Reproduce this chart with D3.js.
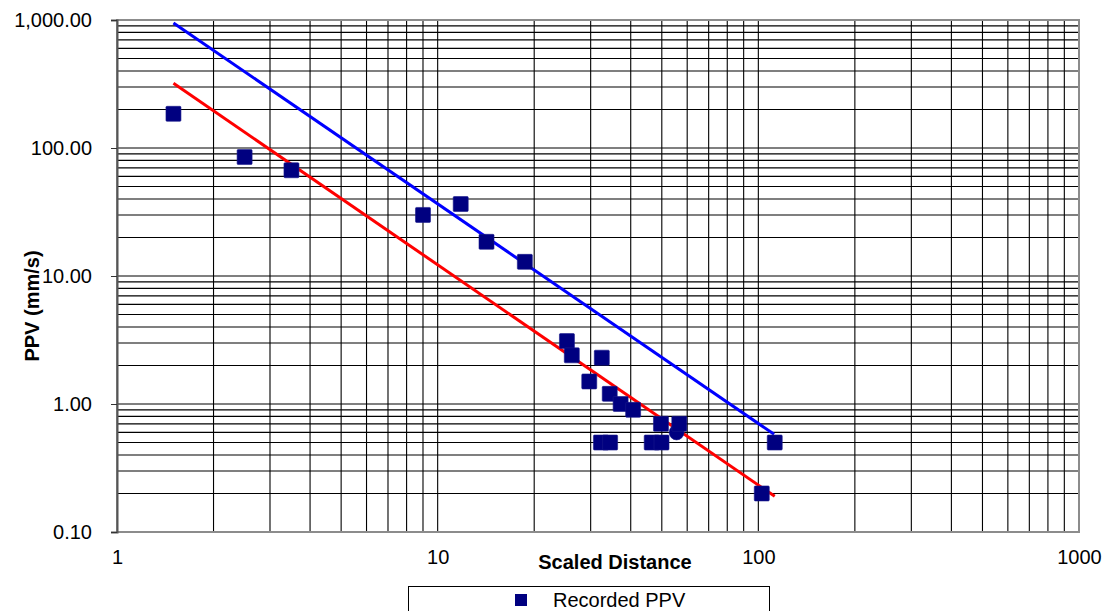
<!DOCTYPE html>
<html>
<head>
<meta charset="utf-8">
<script src="https://cdn.jsdelivr.net/npm/d3@7"></script>
<style>
  html, body { margin: 0; padding: 0; background: #fff; }
  svg { display: block; font-family: "Liberation Sans", Arial, sans-serif; }
</style>
</head>
<body>
<svg id="chart" width="1110" height="611"></svg>
<script>
// ---- data ----
const scaledDistance = [1.5, 2.5, 3.5, 9.0, 11.8, 14.2, 18.7, 25.3, 26.2, 32.5, 29.7, 34.4, 37.2, 40.7, 49.7, 56.7, 32.3, 34.5, 46.5, 49.9, 112.5, 102.5];
const recordedPPV    = [185, 85, 67, 30, 36.5, 18.5, 12.9, 3.1, 2.4, 2.3, 1.5, 1.2, 1.0, 0.9, 0.7, 0.7, 0.5, 0.5, 0.5, 0.5, 0.5, 0.2];
const extraSD  = [55.6];
const extraPPV = [0.6];
const upperLineSD  = [1.5, 112];
const upperLinePPV = [948, 0.58];
const lowerLineSD  = [1.5, 112.5];
const lowerLinePPV = [320, 0.19];
const xTickValues = [1, 10, 100, 1000];
const xTickLabels = ["1", "10", "100", "1000"];
const yTickValues = [0.1, 1, 10, 100, 1000];
const yTickLabels = ["0.10", "1.00", "10.00", "100.00", "1,000.00"];
const legendLabel = "Recorded PPV";

// ---- layout ----
const svg = d3.select("#chart");
const L = 117, T = 20, R = 1079, B = 532;
const x = d3.scaleLog().domain([1, 1000]).range([L, R]);
const y = d3.scaleLog().domain([0.1, 1000]).range([B, T]);

// minor + major grid values
const xGrid = [], yGrid = [];
for (let d = 1; d < 1000; d *= 10) for (let k = 1; k < 10; k++) xGrid.push(d * k);
for (let d = 0.1; d < 999; d *= 10) for (let k = 1; k < 10; k++) yGrid.push(+(d * k).toPrecision(3));

const grid = svg.append("g");
grid.selectAll(".hg").data(yGrid.filter(v => v > 0.1)).enter().append("line")
  .attr("x1", L).attr("x2", R).attr("y1", d => y(d)).attr("y2", d => y(d))
  .attr("stroke", "#000").attr("stroke-width", 1.1);
grid.selectAll(".vg").data(xGrid.filter(v => v > 1)).enter().append("line")
  .attr("y1", T).attr("y2", B).attr("x1", d => x(d)).attr("x2", d => x(d))
  .attr("stroke", "#000").attr("stroke-width", 1.1);

// plot border
svg.append("rect").attr("x", L).attr("y", T).attr("width", R - L).attr("height", B - T)
  .attr("fill", "none").attr("stroke", "#8c8c8c").attr("stroke-width", 2);

// y axis
const yAxis = d3.axisLeft(y).tickValues(yTickValues)
  .tickFormat((d, i) => yTickLabels[i]).tickSize(6).tickPadding(19);
const gy = svg.append("g").attr("transform", `translate(${L},0)`).call(yAxis);
gy.select(".domain").attr("stroke", "#555").attr("stroke-width", 2);
gy.selectAll(".tick line").attr("stroke", "#333");
gy.selectAll("text").attr("font-size", "20px").attr("fill", "#000");

// x axis (labels only)
const xAxis = d3.axisBottom(x).tickValues(xTickValues)
  .tickFormat((d, i) => xTickLabels[i]).tickSize(0).tickPadding(18);
const gx = svg.append("g").attr("transform", `translate(0,${B})`).call(xAxis);
gx.select(".domain").remove();
gx.selectAll("text").attr("font-size", "20px").attr("fill", "#000");

// axis titles
svg.append("text").attr("x", 615).attr("y", 569).attr("text-anchor", "middle")
  .attr("font-size", "20px").attr("font-weight", "bold").text("Scaled Distance");
svg.append("text").attr("transform", "translate(39,306) rotate(-90)").attr("text-anchor", "middle")
  .attr("font-size", "20px").attr("font-weight", "bold").text("PPV (mm/s)");

// fitted lines
const line = d3.line().x(d => x(d[0])).y(d => y(d[1]));
svg.append("path").datum(upperLineSD.map((v, i) => [v, upperLinePPV[i]]))
  .attr("d", line).attr("stroke", "#0000ff").attr("stroke-width", 3).attr("fill", "none");
svg.append("path").datum(lowerLineSD.map((v, i) => [v, lowerLinePPV[i]]))
  .attr("d", line).attr("stroke", "#ff0000").attr("stroke-width", 3).attr("fill", "none");

// points
const S = 15;
svg.append("g").selectAll("circle").data(extraSD.map((v, i) => [v, extraPPV[i]])).enter()
  .append("circle").attr("cx", d => x(d[0])).attr("cy", d => y(d[1])).attr("r", 7.5)
  .attr("fill", "#000080").attr("stroke", "#1a1a8c").attr("stroke-width", 0.6);
svg.append("g").selectAll("rect").data(scaledDistance.map((v, i) => [v, recordedPPV[i]])).enter()
  .append("rect").attr("x", d => x(d[0]) - S / 2).attr("y", d => y(d[1]) - S / 2)
  .attr("width", S).attr("height", S).attr("rx", 1)
  .attr("fill", "#000080").attr("stroke", "#1a1a8c").attr("stroke-width", 0.6);

// legend
const lg = svg.append("g");
lg.append("rect").attr("x", 408.5).attr("y", 586.5).attr("width", 361).attr("height", 30)
  .attr("fill", "#fff").attr("stroke", "#000").attr("stroke-width", 1);
lg.append("rect").attr("x", 515).attr("y", 594).attr("width", 12).attr("height", 12)
  .attr("fill", "#000080");
lg.append("text").attr("x", 553).attr("y", 607).attr("font-size", "20px").text(legendLabel);
</script>
</body>
</html>
